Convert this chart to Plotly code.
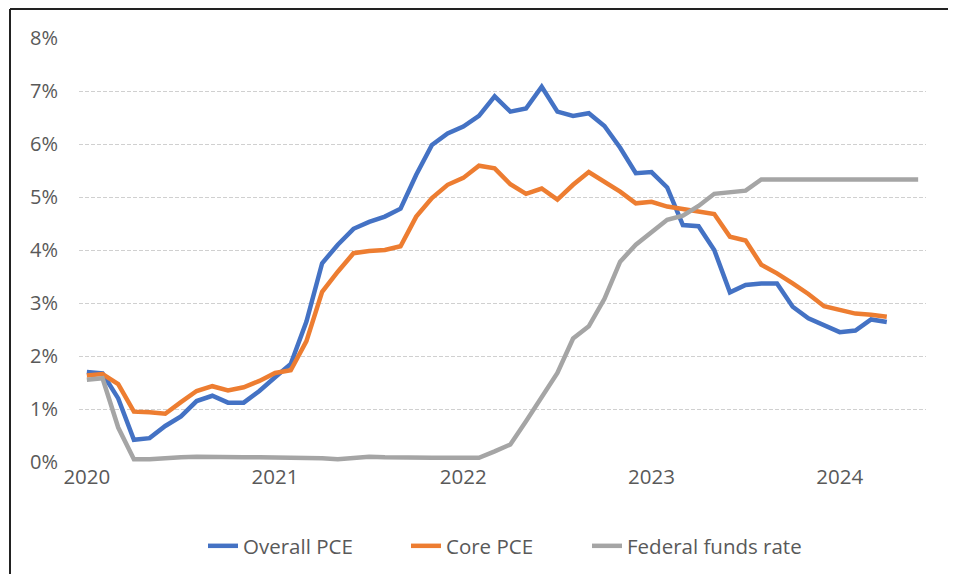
import pandas as pd
import plotly.graph_objects as go

# ---- data ----
months = [d.strftime("%b %Y") for d in pd.date_range("2020-01-01", "2024-06-01", freq="MS")]
year_labels = ["2020", "2021", "2022", "2023", "2024"]
year_ticks = ["Jan 2020", "Jan 2021", "Jan 2022", "Jan 2023", "Jan 2024"]

overall_pce = [
    1.70, 1.67, 1.20, 0.42, 0.45, 0.68, 0.86, 1.15, 1.25, 1.12, 1.12, 1.34,
    1.60, 1.85, 2.65, 3.75, 4.10, 4.40, 4.53, 4.63, 4.78, 5.42, 5.98, 6.20,
    6.33, 6.53, 6.90, 6.61, 6.67, 7.08, 6.61, 6.53, 6.58, 6.34, 5.93, 5.45,
    5.47, 5.18, 4.47, 4.45, 4.00, 3.20, 3.34, 3.37, 3.37, 2.93, 2.71, 2.58,
    2.45, 2.48, 2.69, 2.64,
]
core_pce = [
    1.63, 1.66, 1.47, 0.95, 0.94, 0.91, 1.13, 1.34, 1.43, 1.35, 1.41, 1.53,
    1.68, 1.73, 2.28, 3.21, 3.59, 3.94, 3.98, 4.00, 4.07, 4.63, 4.98, 5.23,
    5.36, 5.59, 5.54, 5.24, 5.06, 5.16, 4.95, 5.23, 5.47, 5.29, 5.10, 4.88,
    4.91, 4.82, 4.77, 4.74, 4.68, 4.25, 4.18, 3.72, 3.56, 3.37, 3.17, 2.94,
    2.88, 2.80, 2.78, 2.74,
]
fed_funds = [
    1.55, 1.58, 0.65, 0.05, 0.05, 0.08, 0.09, 0.10, 0.09, 0.09, 0.09, 0.09,
    0.09, 0.08, 0.07, 0.07, 0.05, 0.08, 0.10, 0.09, 0.08, 0.08, 0.08, 0.08,
    0.08, 0.08, 0.20, 0.33, 0.77, 1.21, 1.68, 2.33, 2.56, 3.08, 3.78, 4.10,
    4.33, 4.57, 4.65, 4.83, 5.06, 5.08, 5.12, 5.33, 5.33, 5.33, 5.33, 5.33,
    5.33, 5.33, 5.33, 5.33, 5.33, 5.33,
]
y_ticks = [0, 1, 2, 3, 4, 5, 6, 7, 8]
y_tick_labels = ["0%", "1%", "2%", "3%", "4%", "5%", "6%", "7%", "8%"]

# ---- figure ----
# the page adds an 8px body margin; keep the figure inside the window
OFF = 8
W, H = 956 - 2 * OFF, 582 - 2 * OFF
L, T = 79 - OFF, 38 - OFF
R = W - (926 - OFF)
B = H - (462 - OFF)
pw, ph = W - L - R, H - T - B

def px_x(p):  # screen px -> paper
    return (p - OFF - L) / pw

def px_y(p):
    return (H - B - (p - OFF)) / ph

FONT = "Open Sans, Noto Sans, sans-serif"
TXT = "#595959"
LW = 4.5

fig = go.Figure()
fig.add_trace(go.Scatter(x=months[:len(overall_pce)], y=overall_pce, mode="lines",
                         name="Overall PCE", line=dict(color="#4472C4", width=LW),
                         legend="legend"))
fig.add_trace(go.Scatter(x=months[:len(core_pce)], y=core_pce, mode="lines",
                         name="Core PCE", line=dict(color="#ED7D31", width=LW),
                         legend="legend2"))
fig.add_trace(go.Scatter(x=months, y=fed_funds, mode="lines",
                         name="Federal funds rate", line=dict(color="#A5A5A5", width=LW),
                         legend="legend3"))

def leg(text_left):
    return dict(orientation="h", x=px_x(text_left - 41), xanchor="left",
                y=px_y(546), yanchor="middle",
                font=dict(family=FONT, size=20.5, color=TXT),
                bgcolor="rgba(0,0,0,0)", borderwidth=0)

border = dict(color="#222222", width=2)

fig.update_layout(
    width=W, height=H,
    margin=dict(l=L, r=R, t=T, b=B, pad=0, autoexpand=False),
    paper_bgcolor="white", plot_bgcolor="white",
    font=dict(family=FONT, size=20, color=TXT),
    showlegend=True,
    legend=leg(244), legend2=leg(447), legend3=leg(628),
    xaxis=dict(type="category", categoryorder="array", categoryarray=months,
               range=[-0.5, len(months) - 0.5],
               tickmode="array", tickvals=year_ticks, ticktext=year_labels,
               showgrid=False, zeroline=False, showline=False, ticks="",
               automargin=False,
               tickfont=dict(family=FONT, size=20.5, color=TXT)),
    yaxis=dict(range=[0, 8], tickmode="array", tickvals=y_ticks, ticktext=y_tick_labels,
               showgrid=True, gridcolor="#D0D0D0", gridwidth=1, griddash="4px,2px",
               zeroline=False, showline=False, ticks="", ticklabelstandoff=20,
               automargin=False,
               tickfont=dict(family=FONT, size=20, color=TXT)),
    shapes=[
        dict(type="line", xref="paper", yref="paper",
             x0=px_x(10), x1=px_x(960), y0=px_y(9), y1=px_y(9), line=border, layer="below"),
        dict(type="line", xref="paper", yref="paper",
             x0=px_x(10), x1=px_x(10), y0=px_y(9), y1=px_y(600), line=border, layer="below"),
    ],
)

fig.write_html("out.html")
